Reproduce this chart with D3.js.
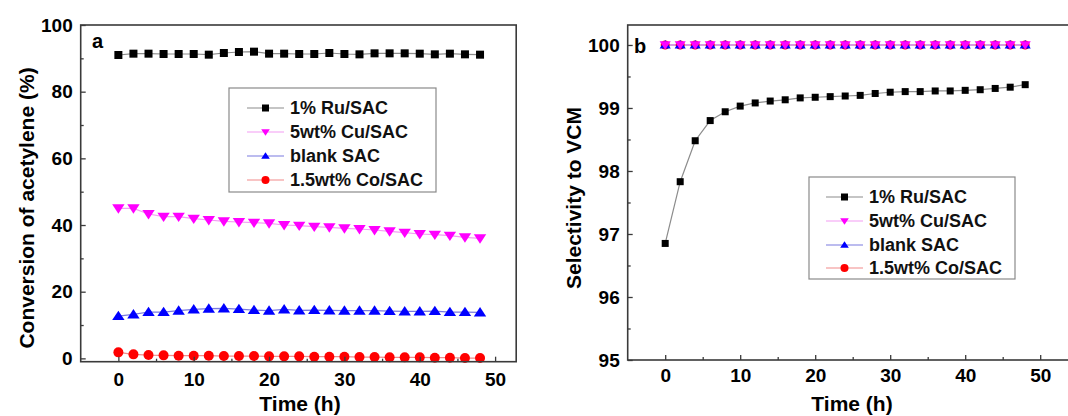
<!DOCTYPE html>
<html>
<head>
<meta charset="utf-8">
<script src="https://cdn.jsdelivr.net/npm/d3@7"></script>
<style>
  body { margin: 0; background: #fff; }
  svg { display: block; font-family: "Liberation Sans", Arial, sans-serif; font-weight: bold; }
</style>
</head>
<body>
<div id="chart"></div>
<script>
// time on stream (h)
var hours = [0, 2, 4, 6, 8, 10, 12, 14, 16, 18, 20, 22, 24, 26, 28, 30, 32, 34, 36, 38, 40, 42, 44, 46, 48];

var names = ["1% Ru/SAC", "5wt% Cu/SAC", "blank SAC", "1.5wt% Co/SAC"];

// panel a: conversion of acetylene (%)
var convRu = [91.0, 91.4, 91.4, 91.3, 91.3, 91.3, 91.1, 91.6, 91.9, 92.0, 91.4, 91.4, 91.3, 91.3, 91.6, 91.3, 91.2, 91.5, 91.5, 91.5, 91.4, 91.2, 91.4, 91.2, 91.1];
var convCu = [45.0, 45.0, 43.3, 42.5, 42.5, 41.9, 41.5, 41.1, 40.9, 40.7, 40.5, 40.0, 39.8, 39.5, 39.3, 39.0, 38.8, 38.5, 38.1, 37.7, 37.3, 37.1, 36.8, 36.3, 36.0];
var convBlank = [12.7, 13.2, 13.9, 13.9, 14.3, 14.7, 14.9, 15.0, 14.8, 14.5, 14.3, 14.7, 14.4, 14.5, 14.4, 14.3, 14.3, 14.3, 14.2, 14.1, 14.1, 14.2, 13.9, 13.9, 13.8];
var convCo = [1.8, 1.2, 1.0, 0.9, 0.8, 0.8, 0.8, 0.7, 0.7, 0.7, 0.6, 0.6, 0.6, 0.5, 0.5, 0.5, 0.4, 0.4, 0.3, 0.3, 0.3, 0.2, 0.2, 0.1, 0.1];

// panel b: selectivity to VCM (%)
var selRu = [96.85, 97.83, 98.48, 98.80, 98.94, 99.03, 99.08, 99.11, 99.13, 99.16, 99.17, 99.18, 99.19, 99.20, 99.23, 99.25, 99.26, 99.26, 99.27, 99.27, 99.28, 99.29, 99.31, 99.33, 99.37];
var selCu = [100, 100, 100, 100, 100, 100, 100, 100, 100, 100, 100, 100, 100, 100, 100, 100, 100, 100, 100, 100, 100, 100, 100, 100, 100];
var selBlank = [100, 100, 100, 100, 100, 100, 100, 100, 100, 100, 100, 100, 100, 100, 100, 100, 100, 100, 100, 100, 100, 100, 100, 100, 100];
var selCo = [100, 100, 100, 100, 100, 100, 100, 100, 100, 100, 100, 100, 100, 100, 100, 100, 100, 100, 100, 100, 100, 100, 100, 100, 100];

var xTicks = [0, 10, 20, 30, 40, 50];
var xMinor = [5, 15, 25, 35, 45];
var yTicksA = [0, 20, 40, 60, 80, 100];
var yMinorA = [10, 30, 50, 70, 90];
var yTicksB = [95, 96, 97, 98, 99, 100];
var yMinorB = [95.5, 96.5, 97.5, 98.5, 99.5];

var markerColor = ["#000000", "#ff00ff", "#0000ff", "#ff0000"];
var lineColor = ["#8c8c8c", "#f49cf4", "#7a7ae0", "#f28a8a"];
var symbols = ["square", "down", "up", "circle"];

var svg = d3.select("#chart").append("svg")
  .attr("width", 1068)
  .attr("height", 416);

function marker(g, kind, cx, cy, color, s) {
  if (kind == "square") {
    g.append("rect").attr("x", cx - s/2).attr("y", cy - s/2).attr("width", s).attr("height", s).attr("fill", color);
  } else if (kind == "circle") {
    g.append("circle").attr("cx", cx).attr("cy", cy).attr("r", s/2 + 0.5).attr("fill", color);
  } else if (kind == "up") {
    var h = s * 0.9;
    g.append("path").attr("d", "M" + cx + "," + (cy - h*0.6) + "L" + (cx + s*0.62) + "," + (cy + h*0.45) + "L" + (cx - s*0.62) + "," + (cy + h*0.45) + "Z").attr("fill", color);
  } else {
    var h = s * 0.9;
    g.append("path").attr("d", "M" + cx + "," + (cy + h*0.6) + "L" + (cx + s*0.62) + "," + (cy - h*0.45) + "L" + (cx - s*0.62) + "," + (cy - h*0.45) + "Z").attr("fill", color);
  }
}

function panel(o) {
  var g = svg.append("g");
  var x = o.x, y = o.y;
  var x0 = x.range()[0], x1 = x.range()[1];
  var y0 = y.range()[0], y1 = y.range()[1];

  // series: lines first, then markers
  o.order.forEach(function(k) {
    var line = d3.line().x(function(d, i) { return x(hours[i]); }).y(function(d) { return y(d); });
    g.append("path").datum(o.series[k])
      .attr("d", line)
      .attr("fill", "none")
      .attr("stroke", lineColor[k])
      .attr("stroke-width", 1.2);
  });
  o.order.forEach(function(k) {
    o.series[k].forEach(function(v, i) {
      marker(g, symbols[k], x(hours[i]), y(v), markerColor[k], o.msize[k]);
    });
  });

  // frame
  g.append("rect")
    .attr("x", x0).attr("y", y1)
    .attr("width", x1 - x0).attr("height", y0 - y1)
    .attr("fill", "none").attr("stroke", "#3a3a3a").attr("stroke-width", 1.6);

  // axes, ticks pointing inward
  g.append("g").attr("transform", "translate(0," + y0 + ")")
    .call(d3.axisBottom(x).tickValues(xTicks).tickSize(-5).tickPadding(o.xPad).tickFormat(d3.format("d")));
  g.append("g").attr("transform", "translate(0," + y0 + ")")
    .call(d3.axisBottom(x).tickValues(xMinor).tickSize(-3).tickFormat(""));
  g.append("g").attr("transform", "translate(" + x0 + ",0)")
    .call(d3.axisLeft(y).tickValues(o.yTicks).tickSize(-5).tickPadding(8).tickFormat(d3.format("d")));
  g.append("g").attr("transform", "translate(" + x0 + ",0)")
    .call(d3.axisLeft(y).tickValues(o.yMinor).tickSize(-3).tickFormat(""));

  g.selectAll(".domain").attr("stroke", "none");
  g.selectAll(".tick line").attr("stroke", "#3a3a3a").attr("stroke-width", 1.3);
  g.selectAll(".tick text").attr("font-size", 19).attr("font-weight", "bold")
    .attr("font-family", "'Liberation Sans', Arial, sans-serif").attr("fill", "#000");

  // titles
  g.append("text").attr("x", o.xTitleX).attr("y", 411)
    .attr("text-anchor", "middle").attr("font-size", 21).attr("fill", "#000")
    .text("Time (h)");
  g.append("text")
    .attr("transform", "translate(" + o.yTitle[0] + "," + o.yTitle[1] + ") rotate(-90)")
    .attr("text-anchor", "middle").attr("dy", "0.35em").attr("font-size", 21).attr("fill", "#000")
    .text(o.yLabel);
  g.append("text").attr("x", o.tag[0]).attr("y", o.tag[1])
    .attr("font-size", 20).attr("fill", "#000").text(o.tagText);

  // legend
  var L = o.legend;
  g.append("rect").attr("x", L.x).attr("y", L.y).attr("width", L.w).attr("height", L.h)
    .attr("fill", "#fff").attr("stroke", "#8a8a8a").attr("stroke-width", 1.2);
  var items = g.selectAll(".leg").data(names).join("g")
    .attr("class", "leg")
    .attr("transform", function(d, i) { return "translate(" + L.lx + "," + L.rows[i] + ")"; });
  items.append("line").attr("x1", 0).attr("x2", 37).attr("y1", 0).attr("y2", 0)
    .attr("stroke", function(d, i) { return lineColor[i]; }).attr("stroke-width", 1.2);
  items.each(function(d, i) {
    marker(d3.select(this), symbols[i], 18.5, 0, markerColor[i], 7);
  });
  items.append("text").attr("x", 43).attr("dy", "0.36em")
    .attr("font-size", 18).attr("fill", "#111").text(function(d) { return d; });
}

panel({
  x: d3.scaleLinear().domain([-5, 52.8]).range([80.7, 516.2]),
  y: d3.scaleLinear().domain([-1, 100]).range([361.7, 25]),
  series: [convRu, convCu, convBlank, convCo],
  order: [0, 1, 2, 3],
  msize: [8, 10, 10, 9],
  yTicks: yTicksA, yMinor: yMinorA,
  xPad: 11,
  xTitleX: 300,
  yTitle: [27, 208],
  yLabel: "Conversion of acetylene (%)",
  tag: [92, 48], tagText: "a",
  legend: { x: 229, y: 88, w: 207, h: 104, lx: 247, rows: [108, 132, 156, 180] }
});

panel({
  x: d3.scaleLinear().domain([-5, 55]).range([627.7, 1077.7]),
  y: d3.scaleLinear().domain([95, 100.317]).range([360, 25]),
  series: [selRu, selCu, selBlank, selCo],
  order: [0, 3, 2, 1],
  msize: [7, 9, 9, 8],
  yTicks: yTicksB, yMinor: yMinorB,
  xPad: 9,
  xTitleX: 852,
  yTitle: [574, 198],
  yLabel: "Selectivity to VCM",
  tag: [634, 53], tagText: "b",
  legend: { x: 809, y: 177, w: 206, h: 102, lx: 826, rows: [197, 221, 245, 268] }
});
</script>
</body>
</html>
